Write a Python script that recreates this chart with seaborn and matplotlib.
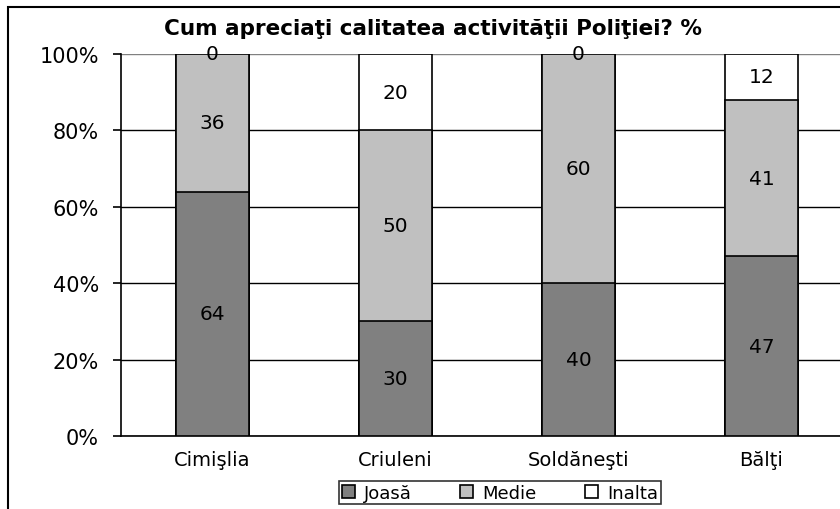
import numpy as np
import pandas as pd
import matplotlib
matplotlib.use('Agg')
import matplotlib.pyplot as plt
from matplotlib.patches import Rectangle, Patch
import seaborn as sns

# Data
raioane = ['Cimişlia', 'Criuleni', 'Soldăneşti', 'Bălţi']
joasa = [64, 30, 40, 47]
medie = [36, 50, 60, 41]
inalta = [0, 20, 0, 12]
series_names = ['Joasă', 'Medie', 'Inalta']
series_colors = ['#808080', '#c0c0c0', '#ffffff']

df = pd.DataFrame({'raion': raioane, 'Joasă': joasa, 'Medie': medie, 'Inalta': inalta})

sns.set_style('white')
plt.rcParams['font.family'] = ['DejaVu Sans']
plt.rcParams['text.color'] = 'black'
plt.rcParams['xtick.color'] = 'black'
plt.rcParams['ytick.color'] = 'black'
plt.rcParams['axes.labelcolor'] = 'black'

fig = plt.figure(figsize=(8.4, 5.1), dpi=100)
ax = fig.add_axes([121 / 840, 73 / 510, 732 / 840, 382 / 510])

# stacked bars: draw cumulative totals from the top segment down
cum = df[series_names].cumsum(axis=1)
for name, color in reversed(list(zip(series_names, series_colors))):
    sns.barplot(x=df['raion'], y=cum[name], color=color, edgecolor='black',
                linewidth=1.2, width=0.4, ax=ax, zorder=3, saturation=1)

# value labels in the middle of each segment
for i in range(len(df)):
    base = 0
    for name in series_names:
        v = df[name].iloc[i]
        ax.text(i, base + v / 2, str(v), ha='center', va='center',
                fontsize=14.5, color='black', zorder=5)
        base += v

ax.set_ylim(0, 100)
ax.set_xlim(-0.5, 3.5)
ax.set_yticks([0, 20, 40, 60, 80, 100])
ax.set_yticklabels(['0%', '20%', '40%', '60%', '80%', '100%'], fontsize=15)
ax.set_xticks(range(len(raioane)))
ax.set_xticklabels(raioane, fontsize=14)
ax.set_xticks(np.arange(-0.5, 4, 1), minor=True)
ax.tick_params(axis='x', which='major', length=0, pad=10, labelcolor='black')
ax.tick_params(axis='x', which='minor', length=6, width=1.2, color='black', direction='out')
ax.tick_params(axis='y', length=6, width=1.2, color='black', direction='out', pad=10,
               left=True, labelcolor='black')
ax.set_xlabel('')
ax.set_ylabel('')

ax.yaxis.grid(True, color='black', linewidth=1.0, zorder=0)
ax.set_axisbelow(True)
ax.get_ygridlines()[-1].set_color('#808080')
for s in ['top', 'right']:
    ax.spines[s].set_visible(False)
for s in ['left', 'bottom']:
    ax.spines[s].set_color('black')
    ax.spines[s].set_linewidth(1.2)

fig.text(433 / 840, 1 - 29 / 510, 'Cum apreciaţi calitatea activităţii Poliţiei? %',
         ha='center', va='center', fontsize=15.5, fontweight='bold', color='black')

handles = [Patch(facecolor=c, edgecolor='black', linewidth=1.2) for c in series_colors]
leg = fig.legend(handles, series_names, loc='upper center', ncol=3,
                 bbox_to_anchor=(500 / 840, 1 - 482 / 510), fontsize=13,
                 frameon=True, fancybox=False, edgecolor='black',
                 handlelength=0.7, handleheight=0.7, handletextpad=0.5,
                 columnspacing=2.7, borderpad=0.15, borderaxespad=0)
leg.get_frame().set_linewidth(1.2)
for t in leg.get_texts():
    t.set_color('black')

fig.patches.append(Rectangle((8 / 840, -0.1), 2, 1 - 8 / 510 + 0.1,
                             transform=fig.transFigure, fill=False,
                             edgecolor='black', linewidth=1.5))

fig.savefig('out.png', dpi=100)
